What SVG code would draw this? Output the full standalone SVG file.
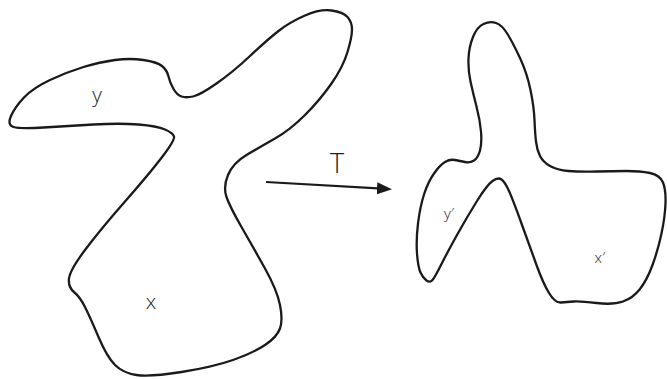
<svg xmlns="http://www.w3.org/2000/svg" width="667" height="379" viewBox="0 0 667 379">
<style>
.blob{fill:none;stroke:#1a1a1a;stroke-width:2.3;stroke-linejoin:round}
.lbl{font-family:"Open Sans","DejaVu Sans","Liberation Sans",sans-serif;font-weight:300;fill:#222}
.conn{stroke:#1a1a1a;stroke-width:2.2;fill:none}
</style>
<defs>
<marker id="ah" markerUnits="userSpaceOnUse" markerWidth="16" markerHeight="13" refX="1" refY="6" orient="auto">
<path d="M0,0 L15,6 L0,12 Z" fill="#1a1a1a"/>
</marker>
</defs>
<g id="shape-left">
<path class="blob" d="M13.5,127 Q7,125 11,116 Q15,107 24,97.5 Q33,88 50,80 Q67,72 83.5,67 Q100,62 115,60 Q130,58 143.5,60 Q157,62 162,66 Q167,70 168.5,76.5 Q170,83 173.5,89 Q177,95 181.5,96.5 Q186,98 193,96.5 Q200,95 216.5,83.5 Q233,72 250,56 Q267,40 278.5,31 Q290,22 305,15.5 Q320,9 331.5,10.5 Q343,12 347.5,17 Q352,22 352,29.5 Q352,37 347.5,52 Q343,67 331.5,83.5 Q320,100 305,115 Q290,130 275,138.5 Q260,147 246.5,155 Q233,163 228,175 Q223,187 226.5,197 Q230,207 241.5,227 Q253,247 265,268.5 Q277,290 280,305 Q283,320 280,328.5 Q277,337 265,345 Q253,353 233,360 Q213,367 181.5,372 Q150,377 136.5,375 Q123,373 115,365 Q107,357 98.5,337 Q90,317 85,307 Q80,297 74,292 Q68,287 69,278.5 Q70,270 85,250 Q100,230 125,201.5 Q150,173 162.5,156.5 Q175,140 174,136.5 Q173,133 165,129.5 Q157,126 138.5,124.5 Q120,123 93.5,124.5 Q67,126 43.5,127.5 Q20,129 13.5,127 Z"/>
<text class="lbl" x="97" y="102" font-size="21" text-anchor="middle">y</text>
<text class="lbl" x="151" y="309" font-size="21" text-anchor="middle">x</text>
</g>
<g id="shape-right">
<path class="blob" d="M496,23 Q490,21 483.5,24 Q477,27 473,37 Q469,47 468.5,58.5 Q468,70 470.5,81.5 Q473,93 476.5,106.5 Q480,120 481,131.5 Q482,143 480,150.5 Q478,158 474,160.5 Q470,163 465,162 Q460,161 455,160 Q450,159 445,162 Q440,165 434,173.5 Q428,182 424,194.5 Q420,207 418,223.5 Q416,240 417,253.5 Q418,267 420.5,272.5 Q423,278 426.5,280.5 Q430,283 432.5,280 Q435,277 441,265 Q447,253 457,235 Q467,217 477,201 Q487,185 492.5,181 Q498,177 501.5,179.5 Q505,182 509,191 Q513,200 521.5,223.5 Q530,247 536.5,265 Q543,283 549,293 Q555,303 561,302.5 Q567,302 573.5,301.5 Q580,301 596.5,303 Q613,305 623,301.5 Q633,298 640,289 Q647,280 652.5,265 Q658,250 661.5,233.5 Q665,217 665.5,203.5 Q666,190 663,182.5 Q660,175 650,173 Q640,171 626.5,171 Q613,171 596.5,171.5 Q580,172 568.5,171 Q557,170 550,166 Q543,162 540,156 Q537,150 536,141.5 Q535,133 534.5,120 Q534,107 530.5,90 Q527,73 520,58 Q513,43 507.5,34 Q502,25 496,23 Z"/>
<text class="lbl" x="449" y="219" font-size="15" text-anchor="middle">y′</text>
<text class="lbl" x="600" y="263" font-size="15" text-anchor="middle">x′</text>
</g>
<g id="connectors">
<line class="conn" x1="266" y1="182" x2="378" y2="188.4" marker-end="url(#ah)"/>
<text class="lbl" x="337" y="173" font-size="27" text-anchor="middle">T</text>
</g>
</svg>
